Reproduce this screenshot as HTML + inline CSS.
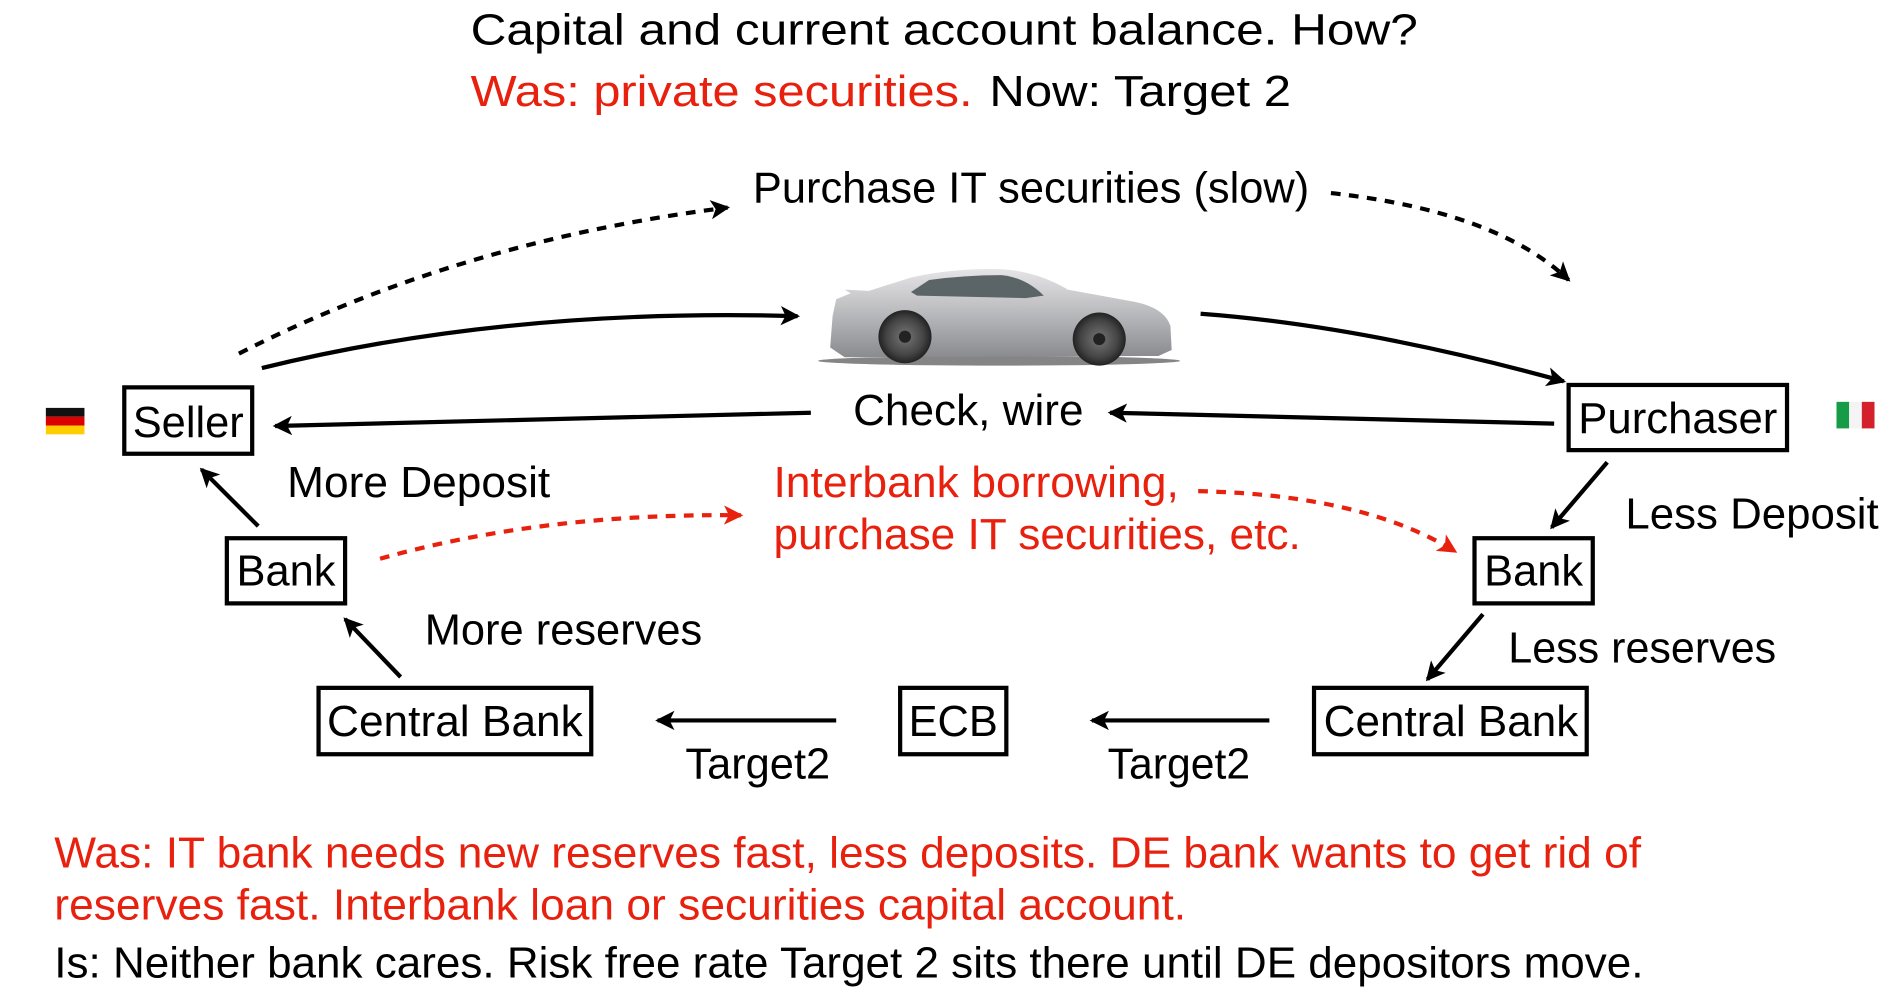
<!DOCTYPE html>
<html><head><meta charset="utf-8"><style>
html,body{margin:0;padding:0;background:#fff;width:1892px;height:998px;overflow:hidden}
svg{display:block}
text{font-family:"Liberation Sans",Arial,sans-serif;font-size:36px;fill:#000}
.r{fill:#e8210f}
</style></head><body>
<svg width="1892" height="998" viewBox="0 0 1568 827" preserveAspectRatio="none" xmlns="http://www.w3.org/2000/svg">
<defs>
<marker id="a" markerWidth="20" markerHeight="20" refX="14" refY="8" orient="auto" markerUnits="userSpaceOnUse"><path d="M0,0 L16,8 L0,16 L4,8 z" fill="#000"/></marker>
<marker id="ar" markerWidth="20" markerHeight="20" refX="14" refY="8" orient="auto" markerUnits="userSpaceOnUse"><path d="M0,0 L16,8 L0,16 L4,8 z" fill="#e8210f"/></marker>
<radialGradient id="wh"><stop offset="0" stop-color="#777"/><stop offset="0.7" stop-color="#444"/><stop offset="1" stop-color="#222"/></radialGradient>
<linearGradient id="body" x1="0" y1="0" x2="0" y2="1"><stop offset="0" stop-color="#e6e6e8"/><stop offset="0.5" stop-color="#b9babd"/><stop offset="1" stop-color="#8a8b8e"/></linearGradient>
</defs>
<g lengthAdjust="spacingAndGlyphs">
<text x="390" y="37" textLength="785" lengthAdjust="spacingAndGlyphs">Capital and current account balance. How?</text>
<text x="390" y="88" class="r" textLength="416" lengthAdjust="spacingAndGlyphs">Was: private securities.</text>
<text x="820" y="88" textLength="250" lengthAdjust="spacingAndGlyphs">Now: Target 2</text>
<text x="624" y="168" textLength="461" lengthAdjust="spacingAndGlyphs">Purchase IT securities (slow)</text>
</g>
<path d="M198,293 Q380,200 603,172" fill="none" stroke="#000" stroke-width="3.5" stroke-dasharray="8,7" marker-end="url(#a)"/>
<path d="M1103,160 Q1240,175 1300,232" fill="none" stroke="#000" stroke-width="3.5" stroke-dasharray="8,7" marker-end="url(#a)"/>

<g>
<ellipse cx="828" cy="299" rx="150" ry="4" fill="#333" opacity="0.6"/>
<path d="M690,262 L693,248 L705,243 L700,240 L720,241 L755,230 Q790,222 830,223 Q860,225 885,240 L940,250 Q965,255 970,270 L971,290 L960,295 L700,296 L688,288 Z" fill="url(#body)"/>
<path d="M755,242 L770,232 Q800,228 830,228 Q850,230 865,245 L850,247 L760,245 Z" fill="#5b6466"/>
<circle cx="750" cy="279" r="22" fill="url(#wh)"/>
<circle cx="911" cy="281" r="22" fill="url(#wh)"/>
<circle cx="750" cy="279" r="5" fill="#222"/>
<circle cx="911" cy="281" r="5" fill="#222"/>
</g>

<path d="M217,305 Q420,255 661,262" fill="none" stroke="#000" stroke-width="3.5" marker-end="url(#a)"/>
<path d="M995,260 Q1130,270 1296,316" fill="none" stroke="#000" stroke-width="3.5" marker-end="url(#a)"/>

<rect x="38" y="338" width="32" height="7.3" fill="#111"/>
<rect x="38" y="345.3" width="32" height="7.3" fill="#dd0000"/>
<rect x="38" y="352.6" width="32" height="7.3" fill="#ffce00"/>
<rect x="1522" y="333" width="10.5" height="22" fill="#169b46"/>
<rect x="1532.5" y="333" width="10.5" height="22" fill="#f4f4f4"/>
<rect x="1543" y="333" width="10.5" height="22" fill="#d4202a"/>

<rect x="103" y="321" width="106" height="55" fill="none" stroke="#000" stroke-width="3.5"/>
<text x="110" y="362" textLength="92" lengthAdjust="spacingAndGlyphs">Seller</text>
<rect x="1300" y="319" width="181" height="54" fill="none" stroke="#000" stroke-width="3.5"/>
<text x="1308" y="359" textLength="165" lengthAdjust="spacingAndGlyphs">Purchaser</text>

<text x="707" y="352" textLength="191" lengthAdjust="spacingAndGlyphs">Check, wire</text>
<path d="M672,342 L228,353" fill="none" stroke="#000" stroke-width="3.5" marker-end="url(#a)"/>
<path d="M1288,351 L920,342" fill="none" stroke="#000" stroke-width="3.5" marker-end="url(#a)"/>

<text x="238" y="412" textLength="218" lengthAdjust="spacingAndGlyphs">More Deposit</text>
<path d="M214,436 L167,389" fill="none" stroke="#000" stroke-width="3.5" marker-end="url(#a)"/>
<rect x="188" y="446" width="98" height="54" fill="none" stroke="#000" stroke-width="3.5"/>
<text x="196" y="485" textLength="82" lengthAdjust="spacingAndGlyphs">Bank</text>

<path d="M315,463 Q450,425 614,427" fill="none" stroke="#e8210f" stroke-width="3.5" stroke-dasharray="8,7" marker-end="url(#ar)"/>
<text x="641" y="412" class="r" textLength="336" lengthAdjust="spacingAndGlyphs">Interbank borrowing,</text>
<text x="641" y="455" class="r" textLength="437" lengthAdjust="spacingAndGlyphs">purchase IT securities, etc.</text>
<path d="M993,407 Q1130,410 1206,457" fill="none" stroke="#e8210f" stroke-width="3.5" stroke-dasharray="8,7" marker-end="url(#ar)"/>

<rect x="1222" y="446" width="98" height="54" fill="none" stroke="#000" stroke-width="3.5"/>
<text x="1230" y="485" textLength="82" lengthAdjust="spacingAndGlyphs">Bank</text>
<text x="1347" y="438" textLength="210" lengthAdjust="spacingAndGlyphs">Less Deposit</text>
<path d="M1332,383 L1286,437" fill="none" stroke="#000" stroke-width="3.5" marker-end="url(#a)"/>

<text x="352" y="534" textLength="230" lengthAdjust="spacingAndGlyphs">More reserves</text>
<path d="M332,561 L286,513" fill="none" stroke="#000" stroke-width="3.5" marker-end="url(#a)"/>
<text x="1250" y="549" textLength="222" lengthAdjust="spacingAndGlyphs">Less reserves</text>
<path d="M1229,509 L1183,563" fill="none" stroke="#000" stroke-width="3.5" marker-end="url(#a)"/>

<rect x="264" y="570" width="226" height="55" fill="none" stroke="#000" stroke-width="3.5"/>
<text x="271" y="610" textLength="212" lengthAdjust="spacingAndGlyphs">Central Bank</text>
<rect x="746" y="570" width="88" height="55" fill="none" stroke="#000" stroke-width="3.5"/>
<text x="753" y="610" textLength="74" lengthAdjust="spacingAndGlyphs">ECB</text>
<rect x="1089" y="570" width="226" height="55" fill="none" stroke="#000" stroke-width="3.5"/>
<text x="1097" y="610" textLength="211" lengthAdjust="spacingAndGlyphs">Central Bank</text>

<path d="M693,597 L545,597" fill="none" stroke="#000" stroke-width="3.5" marker-end="url(#a)"/>
<path d="M1052,597 L905,597" fill="none" stroke="#000" stroke-width="3.5" marker-end="url(#a)"/>
<text x="568" y="645" textLength="120" lengthAdjust="spacingAndGlyphs">Target2</text>
<text x="918" y="645" textLength="118" lengthAdjust="spacingAndGlyphs">Target2</text>

<text x="45" y="719" class="r" textLength="1315" lengthAdjust="spacingAndGlyphs">Was: IT bank needs new reserves fast, less deposits. DE bank wants to get rid of</text>
<text x="45" y="762" class="r" textLength="938" lengthAdjust="spacingAndGlyphs">reserves fast. Interbank loan or securities capital account.</text>
<text x="45" y="810" textLength="1317" lengthAdjust="spacingAndGlyphs">Is: Neither bank cares. Risk free rate Target 2 sits there until DE depositors move.</text>
</svg>
</body></html>
